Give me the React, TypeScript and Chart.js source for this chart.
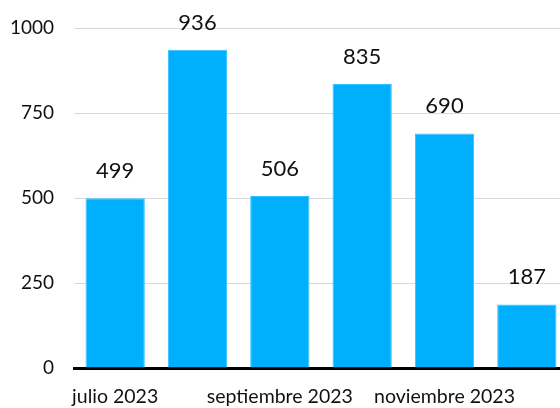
import React, { useEffect, useRef } from "react";
import { Chart, registerables } from "chart.js";

Chart.register(...registerables);

const categories = ["julio 2023", "agosto 2023", "septiembre 2023", "octubre 2023", "noviembre 2023", "diciembre 2023"];
const values = [499, 936, 506, 835, 690, 187];
const yTicks = [0, 250, 500, 750, 1000];

const FONT = "Lato, 'Open Sans', sans-serif";

const labelPlugin = {
  id: "valueLabels",
  afterDatasetsDraw(chart: any) {
    const ctx = chart.ctx;
    const meta = chart.getDatasetMeta(0);
    ctx.save();
    ctx.font = `22px ${FONT}`;
    ctx.fillStyle = "#111";
    ctx.textAlign = "center";
    ctx.textBaseline = "alphabetic";
    meta.data.forEach((bar: any, i: number) => {
      ctx.fillText(String(values[i]), bar.x, bar.y - 20);
    });
    ctx.restore();
  },
};

export default function App() {
  const ref = useRef<HTMLCanvasElement | null>(null);
  useEffect(() => {
    document.body.style.margin = "0";
    document.body.style.overflow = "hidden";
    const chart = new Chart(ref.current!, {
      type: "bar",
      data: {
        labels: categories,
        datasets: [
          {
            data: values,
            backgroundColor: "#00B0FF",
            borderColor: "#33C2FF",
            borderWidth: 1,
            barPercentage: 0.72,
            categoryPercentage: 1,
          },
        ],
      },
      options: {
        animation: false,
        responsive: false,
        plugins: { legend: { display: false }, tooltip: { enabled: false } },
        layout: { padding: { top: 28, right: 1, bottom: 0, left: 0 } },
        scales: {
          x: {
            grid: { display: false },
            border: { display: true, color: "#000", width: 3 },
            ticks: {
              autoSkip: false,
              maxRotation: 0,
              color: "#111",
              padding: 9,
              font: { family: FONT, size: 19.5 },
              callback: (_v: any, i: number) => (i % 2 === 0 ? categories[i] : ""),
            },
            afterFit: (s: any) => {
              s.height = 40;
              s.paddingLeft = 0;
              s.paddingRight = 0;
            },
          },
          y: {
            min: yTicks[0],
            max: yTicks[yTicks.length - 1],
            afterBuildTicks: (s: any) => {
              s.ticks = yTicks.map((v) => ({ value: v }));
            },
            grid: { color: "#d9d9d9", drawTicks: false },
            border: { display: false },
            ticks: {
              color: "#111",
              padding: 20,
              font: { family: FONT, size: 19 },
              callback: (v: any) => String(v),
            },
            afterFit: (s: any) => {
              s.width = 74;
              s.paddingTop = 0;
              s.paddingBottom = 0;
            },
          },
        },
      },
      plugins: [labelPlugin],
    });
    return () => chart.destroy();
  }, []);
  return (
    <div style={{ width: 560, height: 408, overflow: "hidden" }}>
      <canvas ref={ref} width={569} height={408} />
    </div>
  );
}
